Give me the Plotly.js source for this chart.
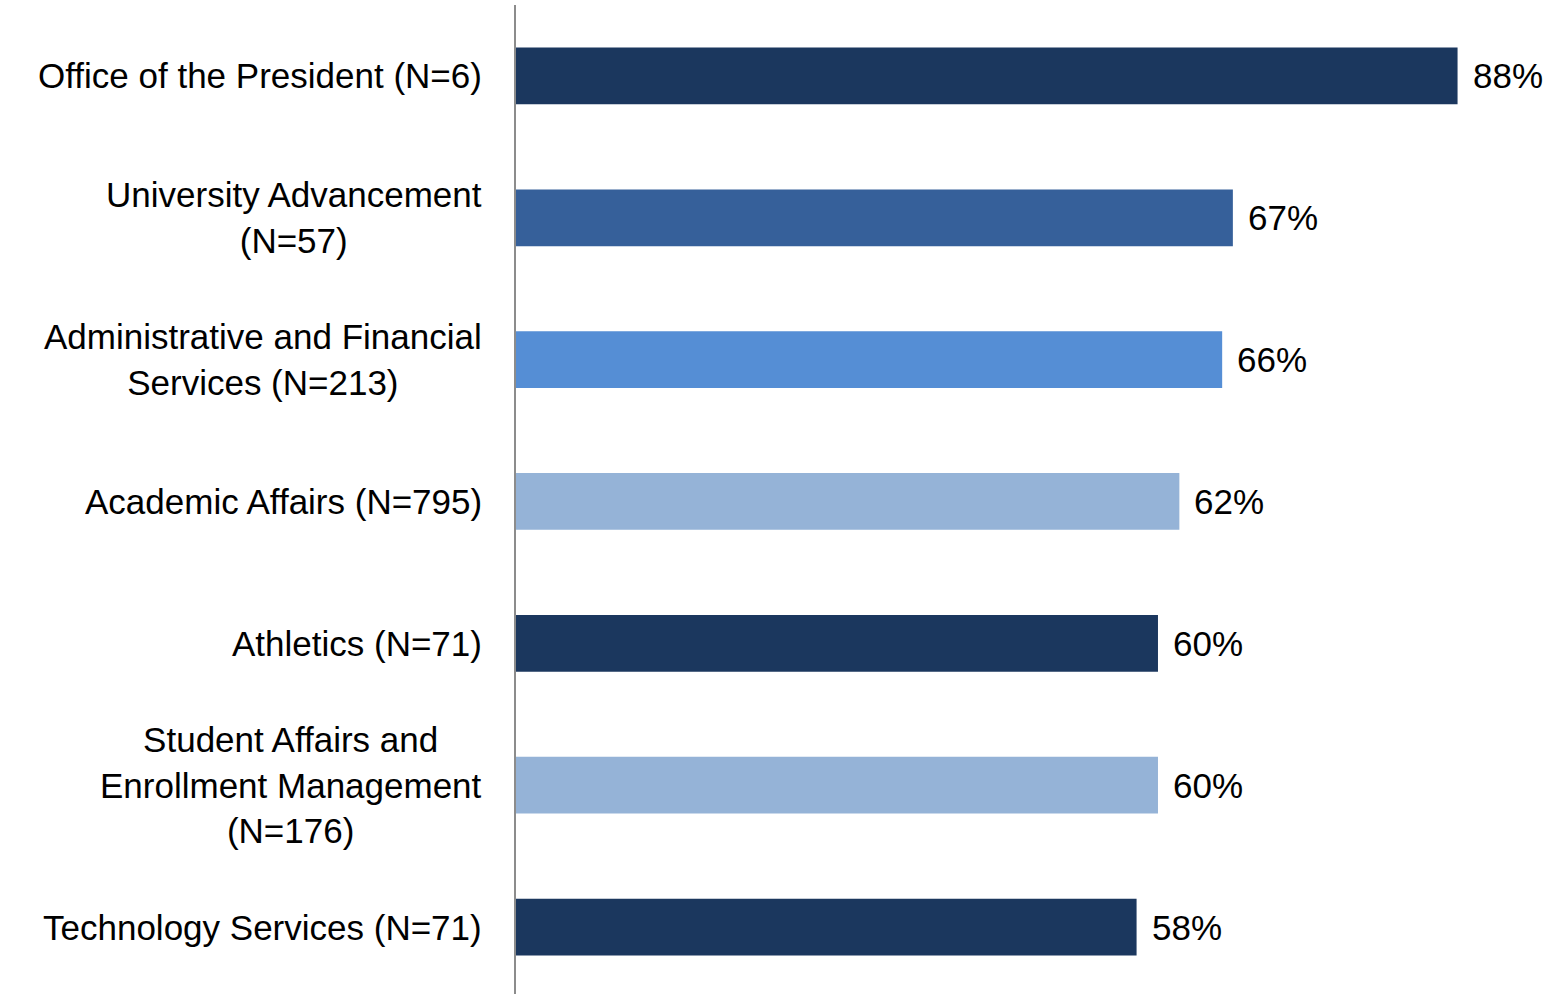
<!DOCTYPE html>
<html>
<head>
<meta charset="utf-8">
<script src="https://cdn.plot.ly/plotly-3.0.1.min.js"></script>
<style>html,body{margin:0;padding:0;background:#fff;}#chart{width:1556px;height:994px;}</style>
</head>
<body>
<div id="chart"></div>
<script>
const categories = [
  "Office of the President (N=6)",
  "University Advancement<br>(N=57)",
  "Administrative and Financial<br>Services (N=213)",
  "Academic Affairs (N=795)",
  "Athletics (N=71)",
  "Student Affairs and<br>Enrollment Management<br>(N=176)",
  "Technology Services (N=71)"
];
const values = [88, 67, 66, 62, 60, 60, 58];
const barColors = ["#1b375e", "#36609a", "#558ed5", "#95b3d7", "#1b375e", "#95b3d7", "#1b375e"];
const valueLabels = values.map(v => v + "%");

const font = "'Liberation Sans', Arial, sans-serif";

const trace = {
  type: "bar",
  orientation: "h",
  y: categories.map((c, i) => i),
  x: values,
  marker: {color: barColors},
  hoverinfo: "none"
};

const annotations = [];
categories.forEach((c, i) => {
  annotations.push({
    xref: "paper", yref: "y", x: 0, y: i,
    xanchor: "right", yanchor: "middle", align: "center",
    xshift: -32, showarrow: false, text: c,
    font: {family: font, size: 35, color: "#000"}
  });
  annotations.push({
    xref: "x", yref: "y", x: values[i], y: i,
    xanchor: "left", yanchor: "middle",
    xshift: 13, showarrow: false, text: valueLabels[i],
    font: {family: font, size: 35, color: "#000"}
  });
});

const layout = {
  width: 1556, height: 994,
  margin: {l: 516, r: 0, t: 5, b: 0},
  paper_bgcolor: "#fff", plot_bgcolor: "#fff",
  bargap: 0.6,
  showlegend: false,
  xaxis: {range: [0, 97.2], showgrid: false, zeroline: false, showticklabels: false, showline: false, ticks: ""},
  yaxis: {range: [6.472, -0.5], showgrid: false, zeroline: false, showticklabels: false, ticks: "",
          showline: true, linecolor: "#8c8c8c", linewidth: 2},
  annotations: annotations
};

Plotly.newPlot("chart", [trace], layout, {staticPlot: true, displayModeBar: false});
</script>
</body>
</html>
